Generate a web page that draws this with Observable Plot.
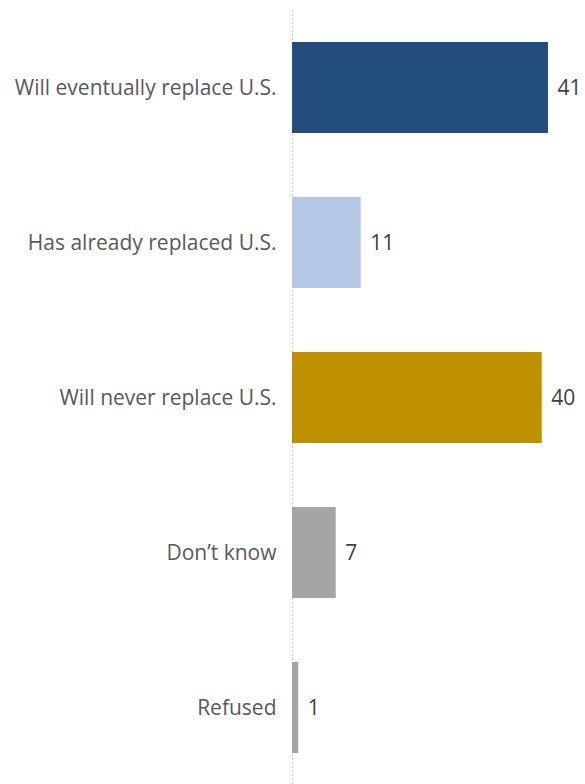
<!DOCTYPE html>
<html>
<head>
<meta charset="utf-8">
<script src="https://cdn.jsdelivr.net/npm/d3@7"></script>
<script src="https://cdn.jsdelivr.net/npm/@observablehq/plot@0.6"></script>
<style>
  html, body { margin: 0; padding: 0; background: #fff; }
  #chart svg { display: block; }
</style>
</head>
<body>
<div id="chart"></div>
<script>
const categories = ["Will eventually replace U.S.", "Has already replaced U.S.", "Will never replace U.S.", "Don’t know", "Refused"];
const values = [41, 11, 40, 7, 1];
const colors = ["#234d7b", "#b4c7e7", "#bf9000", "#a5a5a5", "#a5a5a5"];

const data = categories.map((c, i) => ({category: c, value: values[i], color: colors[i]}));

const chart = Plot.plot({
  width: 585,
  height: 784,
  marginLeft: 292,
  marginRight: 37,
  marginTop: 10,
  marginBottom: 0,
  style: {fontFamily: "'Open Sans', 'Liberation Sans', sans-serif", fontSize: "21px", color: "#595959", background: "#fff"},
  x: {domain: [0, 41], axis: null},
  y: {domain: categories, range: [0, 795], paddingInner: 0.413, paddingOuter: 0.271, label: null},
  marks: [
    Plot.ruleX([0], {stroke: "#c8c8c8", strokeDasharray: "2,2", strokeWidth: 1}),
    Plot.barX(data, {x: "value", y: "category", fill: "color"}),
    Plot.text(data, {x: "value", y: "category", text: d => String(d.value), textAnchor: "start", dx: 9, fill: "#404040", fontSize: 21}),
    Plot.axisY({tickSize: 0, tickPadding: 16, fontSize: 21, color: "#595959"})
  ]
});
document.getElementById("chart").appendChild(chart);
</script>
</body>
</html>
